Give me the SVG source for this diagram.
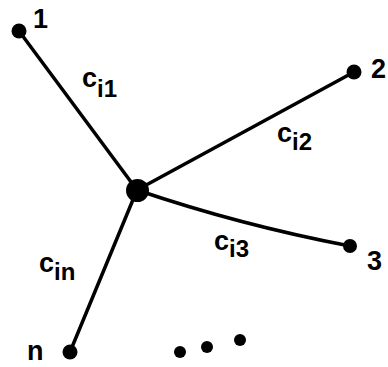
<svg xmlns="http://www.w3.org/2000/svg" width="388" height="367" viewBox="0 0 388 367">
<style>
.edge{fill:none;stroke:#000;stroke-width:3.5;stroke-linecap:round}
.dot{fill:#000}
.lbl{font-family:"Liberation Sans",Arial,sans-serif;font-weight:bold;font-size:27px;fill:#000}
.sub{font-size:24px}
</style>
<rect width="388" height="367" fill="#fff"/>
<g id="connectors">
<path class="edge" d="M19,31 L137,190"/>
<path class="edge" d="M137,190 L354,72"/>
<path class="edge" d="M137,190 Q240,225 350,246"/>
<path class="edge" d="M137,190 L70,352"/>
</g>
<g id="node-center"><circle class="dot" cx="137.5" cy="190.5" r="11.5"/></g>
<g id="node-1"><circle class="dot" cx="19" cy="31" r="7.5"/><text class="lbl" x="33" y="28">1</text></g>
<g id="node-2"><circle class="dot" cx="354" cy="72" r="7.5"/><text class="lbl" x="371" y="78">2</text></g>
<g id="node-3"><circle class="dot" cx="350" cy="246" r="7"/><text class="lbl" x="367" y="270">3</text></g>
<g id="node-n"><circle class="dot" cx="70" cy="352" r="7.5"/><text class="lbl" x="27" y="360">n</text></g>
<g id="ellipsis">
<circle class="dot" cx="180" cy="352" r="6"/>
<circle class="dot" cx="207" cy="347" r="6"/>
<circle class="dot" cx="240" cy="340" r="6"/>
</g>
<g id="labels">
<text class="lbl" x="82" y="87">c<tspan class="sub" dy="10">i1</tspan></text>
<text class="lbl" x="277" y="142">c<tspan class="sub" dy="8">i2</tspan></text>
<text class="lbl" x="214" y="250">c<tspan class="sub" dy="7">i3</tspan></text>
<text class="lbl" x="39" y="272">c<tspan class="sub" dy="8">in</tspan></text>
</g>
</svg>
